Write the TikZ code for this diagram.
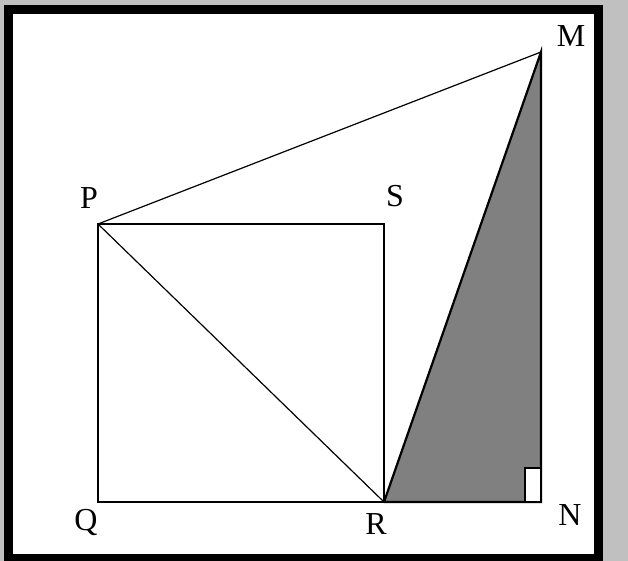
\documentclass[tikz,border=0pt]{standalone}
\usepackage{fontspec}
\setmainfont{Liberation Serif}
\begin{document}
\begin{tikzpicture}[x=1pt,y=-1pt,
  lbl/.style={font=\fontsize{32}{34}\selectfont, inner sep=0pt},
  thick line/.style={line width=2.2pt},
  thin line/.style={line width=1.2pt}]
\useasboundingbox (0,0) rectangle (628,561);
\fill[fill={rgb,255:red,192;green,192;blue,192}] (0,0) rectangle (628,561);
\filldraw[fill=white, draw=black, line width=9pt] (8,9.5) rectangle (598,558);
% points
\coordinate (P) at (98,224);
\coordinate (S) at (384,224);
\coordinate (Q) at (98,502);
\coordinate (R) at (384,502);
\coordinate (N) at (541,502);
\coordinate (M) at (541,52);
% shaded triangle
\fill[fill={rgb,255:red,128;green,128;blue,128}] (R) -- (M) -- (N) -- cycle;
\draw[thick line] (R) -- (M) -- (N) -- (R);
% right-angle box
\filldraw[fill=white, draw=black, line width=2pt] (525,468) rectangle (541,502);
% square
\draw[thick line] (P) -- (S) -- (R) -- (Q) -- cycle;
\draw[thin line] (P) -- (R);
\draw[thin line] (P) -- (M);
% labels
\node[lbl] (lP) at (89,198) {P};
\node[lbl] (lS) at (395,196) {S};
\node[lbl] (lM) at (571,36) {M};
\node[lbl] (lQ) at (86,522) {Q};
\node[lbl] (lR) at (376,524) {R};
\node[lbl] (lN) at (570,515) {N};
\end{tikzpicture}
\end{document}
